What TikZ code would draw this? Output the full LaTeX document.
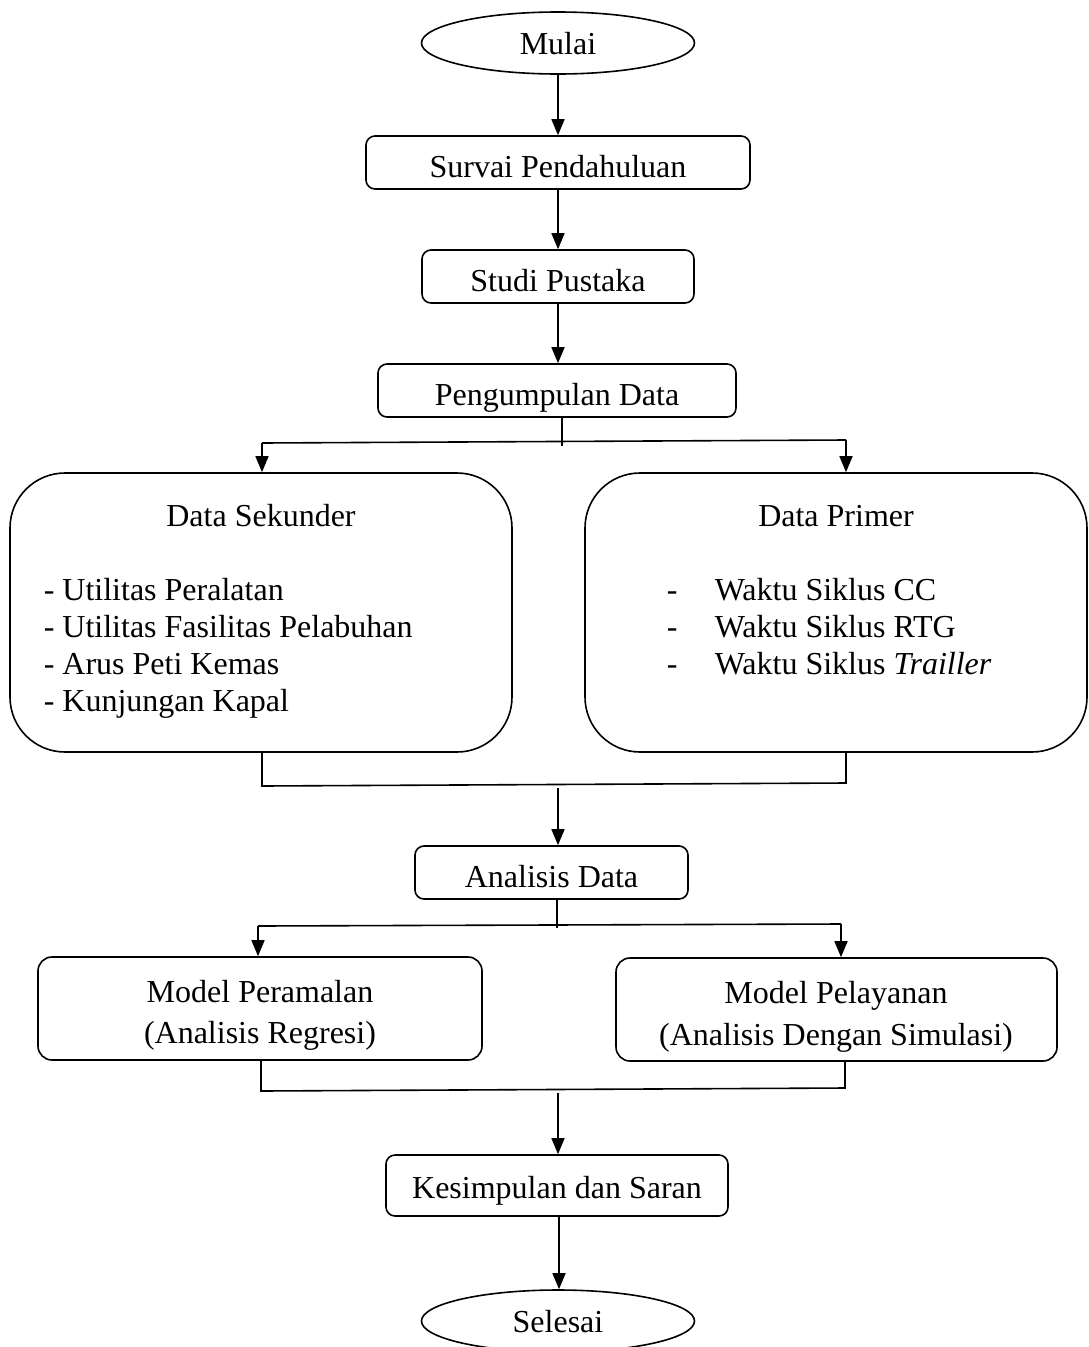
\documentclass[tikz,border=0pt]{standalone}
\usepackage{fontspec}
\setmainfont{Liberation Serif}
\usetikzlibrary{arrows.meta,shapes.geometric}
\begin{document}
\begin{tikzpicture}[x=1pt,y=-1pt,line width=1.6pt,
  txt/.style={font=\fontsize{32}{37}\selectfont, inner sep=0pt},
  box/.style={draw, rounded corners=9pt, txt, text height=30pt, text depth=1pt},
  term/.style={draw, ellipse, txt, minimum width=273pt, minimum height=62pt, text height=27pt, text depth=5pt},
  bigbox/.style={draw, rounded corners=55pt, minimum width=502pt, minimum height=279pt, inner sep=0pt},
  modelbox/.style={draw, rounded corners=14pt, minimum width=444pt, minimum height=103pt, inner sep=0pt},
  arr/.style={-{Triangle[length=16pt,width=13pt]}}]
\useasboundingbox (0,0) rectangle (1088,1347);

% nodes
\node[term] (mulai) at (558,43) {Mulai};
\node[box, minimum width=384pt, minimum height=53pt] (survai) at (558,162.5) {Survai Pendahuluan};
\node[box, minimum width=272pt, minimum height=53pt] (studi) at (558,276.5) {Studi Pustaka};
\node[box, minimum width=358pt, minimum height=53pt] (kumpul) at (557,390.5) {Pengumpulan Data};

\node[bigbox] (sek) at (261,612.5) {};
\node[txt, anchor=base] (sekt) at (261,526) {Data Sekunder};
\node[txt, anchor=base west] (sek1) at (43,600) {- Utilitas Peralatan};
\node[txt, anchor=base west] (sek2) at (43,637) {- Utilitas Fasilitas Pelabuhan};
\node[txt, anchor=base west] (sek3) at (43,674) {- Arus Peti Kemas};
\node[txt, anchor=base west] (sek4) at (43,711) {- Kunjungan Kapal};

\node[bigbox] (pri) at (836,612.5) {};
\node[txt, anchor=base] (prit) at (836,526) {Data Primer};
\node[txt, anchor=base west] (prid1) at (666,600) {-};
\node[txt, anchor=base west] (prid2) at (666,637) {-};
\node[txt, anchor=base west] (prid3) at (666,674) {-};
\node[txt, anchor=base west] (pri1) at (714,600) {Waktu Siklus CC};
\node[txt, anchor=base west] (pri2) at (714,637) {Waktu Siklus RTG};
\node[txt, anchor=base west] (pri3) at (714,674) {Waktu Siklus \textit{Trailler}};

\node[box, minimum width=273pt, minimum height=53pt] (anal) at (551.5,872.5) {Analisis Data};

\node[modelbox] (ram) at (260,1008.5) {};
\node[txt, anchor=base] (ram1) at (260,1002) {Model Peramalan};
\node[txt, anchor=base] (ram2) at (260,1043) {(Analisis Regresi)};

\node[modelbox, minimum width=441pt] (lay) at (836.5,1009.5) {};
\node[txt, anchor=base] (lay1) at (836,1003) {Model Pelayanan};
\node[txt, anchor=base] (lay2) at (836,1045) {(Analisis Dengan Simulasi)};

\node[box, minimum width=342pt, minimum height=61pt, text height=26pt] (kes) at (557,1185.5) {Kesimpulan dan Saran};
\node[term] (sel) at (558,1321) {Selesai};

% connectors
\draw[arr] (mulai) -- (survai);
\draw[arr] (survai) -- (studi);
\draw[arr] (studi.south) -- (studi.south |- kumpul.north);

\coordinate (j1) at (562,446);
\coordinate (h1l) at (262,443);
\coordinate (h1r) at (846,440);
\draw (kumpul.south -| j1) -- (j1);
\draw (h1l) -- (h1r);
\draw[arr] (h1l) -- (sek.north -| h1l);
\draw[arr] (h1r) -- (pri.north -| h1r);

\coordinate (h2l) at (262,786);
\coordinate (h2r) at (846,783);
\coordinate (h2m) at (558,788);
\draw (sek.south -| h2l) -- (h2l) -- (h2r) -- (pri.south -| h2r);
\draw[arr] (h2m) -- (anal.north -| h2m);

\coordinate (j3) at (557,928);
\coordinate (h3l) at (258,926);
\coordinate (h3r) at (841,924);
\draw (anal.south -| j3) -- (j3);
\draw (h3l) -- (h3r);
\draw[arr] (h3l) -- (ram.north -| h3l);
\draw[arr] (h3r) -- (lay.north -| h3r);

\coordinate (h4l) at (261,1091);
\coordinate (h4r) at (845,1088);
\coordinate (h4m) at (558,1093);
\draw (ram.south -| h4l) -- (h4l) -- (h4r) -- (lay.south -| h4r);
\draw[arr] (h4m) -- (kes.north -| h4m);

\coordinate (k1) at (559,1216);
\draw[arr] (kes.south -| k1) -- (sel.north -| k1);
\end{tikzpicture}
\end{document}
